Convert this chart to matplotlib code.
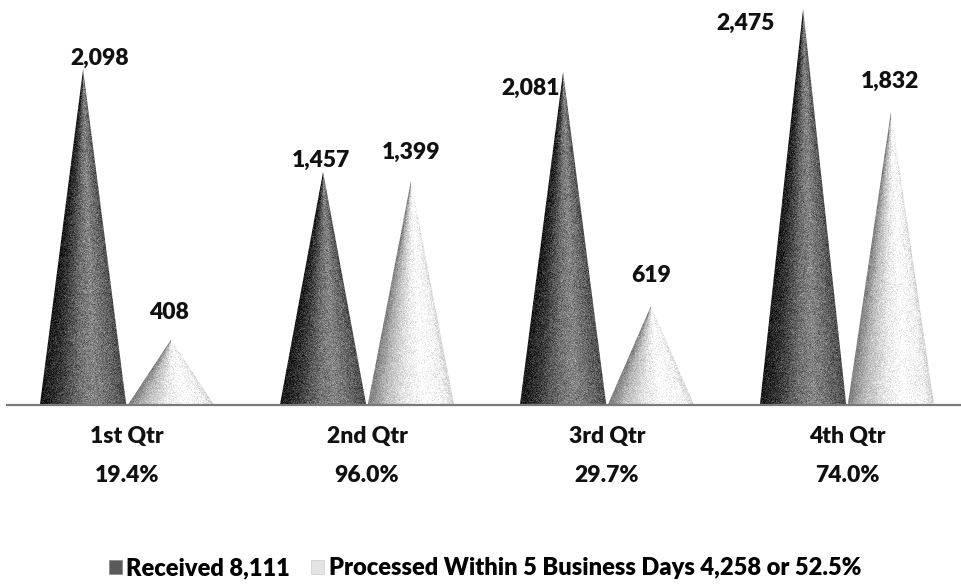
import numpy as np
import matplotlib
matplotlib.use("Agg")
import matplotlib.pyplot as plt
from matplotlib.patches import Polygon, Patch
from matplotlib.transforms import blended_transform_factory

plt.rcParams['font.family'] = ['Lato', 'DejaVu Sans']
plt.rcParams['font.weight'] = 'heavy'

quarters = ["1st Qtr", "2nd Qtr", "3rd Qtr", "4th Qtr"]
received = [2098, 1457, 2081, 2475]
processed = [408, 1399, 619, 1832]

# label placement (pixel offsets of the text centre from each cone tip)
recv_offsets = [(17, 11), (-2, 11), (-32, -16), (-58, -14)]
proc_offsets = [(-2, 27), (0, 29), (0, 30), (-1, 30)]

LABEL_SIZE = 16.5

fig = plt.figure(figsize=(9.61, 5.88), dpi=100)
ax = fig.add_axes([7 / 961, 1 - 405 / 588, 954 / 961, 400 / 588])
ax.set_xlim(-0.5, -0.5 + 954 / 240)
ax.set_ylim(0, 2500)
ax.axis("off")

# fixed seed so the stippled texture is the same on every run
rng = np.random.default_rng(7)


def shade_profile(u, stops):
    xs = [s[0] for s in stops]
    vs = [s[1] for s in stops]
    return np.interp(u, xs, vs)


recv_stops = [(-1.0, 0.10), (-0.6, 0.22), (-0.1, 0.44), (0.25, 0.52), (0.7, 0.40), (1.0, 0.30)]
proc_stops = [(-1.0, 0.50), (-0.6, 0.74), (-0.1, 0.92), (0.3, 1.00), (0.8, 0.94), (1.0, 0.82)]


def draw_cone(xc, height, width, stops, grain):
    half = width / 2
    nx, ny = 120, max(int(height * 0.16 * 1.2), 20)
    xs = np.linspace(xc - half, xc + half, nx)
    ys = np.linspace(0, height, ny)
    X, Y = np.meshgrid(xs, ys)
    hw = half * np.clip(1 - Y / height, 1e-6, None)
    U = np.clip((X - xc) / hw, -1, 1)
    val = shade_profile(U, stops)
    val = val + rng.normal(0, grain, val.shape)
    val = np.clip(val, 0, 1)
    img = ax.imshow(val, cmap="gray", vmin=0, vmax=1, origin="lower",
                    extent=(xc - half, xc + half, 0, height),
                    aspect="auto", interpolation="nearest", zorder=2)
    tri = Polygon([(xc - half, 0), (xc + half, 0), (xc, height)],
                  closed=True, facecolor="none", edgecolor="none")
    ax.add_patch(tri)
    img.set_clip_path(tri)


width = 0.36
off = 0.183
for i in range(len(quarters)):
    draw_cone(i - off, received[i], width, recv_stops, 0.07)
    draw_cone(i + off, processed[i], width, proc_stops, 0.05)
    ax.annotate(f"{received[i]:,}", xy=(i - off, received[i]),
                xytext=recv_offsets[i], textcoords="offset pixels",
                ha="center", va="center", fontsize=LABEL_SIZE,
                fontweight="heavy", color="#111111", zorder=5)
    ax.annotate(f"{processed[i]:,}", xy=(i + off, processed[i]),
                xytext=proc_offsets[i], textcoords="offset pixels",
                ha="center", va="center", fontsize=LABEL_SIZE,
                fontweight="heavy", color="#111111", zorder=5)

# baseline
ax.plot([-0.5, 3.5], [0, 0], color="#7a7a7a", lw=1.6, zorder=3, clip_on=False)

# category and percentage rows
tr = blended_transform_factory(ax.transData, fig.transFigure)
for i, q in enumerate(quarters):
    pct = processed[i] / received[i] * 100
    ax.text(i, 1 - 436 / 588, q, transform=tr, ha="center", va="center",
            fontsize=LABEL_SIZE, fontweight="heavy", color="#111111")
    ax.text(i, 1 - 476 / 588, f"{pct:.1f}%", transform=tr, ha="center",
            va="center", fontsize=LABEL_SIZE, fontweight="heavy", color="#111111")

total_recv = sum(received)
total_proc = sum(processed)
handles = [
    Patch(facecolor="#5a5a5a", edgecolor="#888888", lw=0.5),
    Patch(facecolor="#e4e4e4", edgecolor="#cccccc", lw=0.5),
]
labels = [
    f"Received {total_recv:,}",
    f"Processed Within 5 Business Days {total_proc:,} or {total_proc / total_recv * 100:.1f}%",
]
fig.legend(handles, labels, loc="center", bbox_to_anchor=(485 / 961, 1 - 568 / 588),
           ncol=2, frameon=False, prop={"weight": "heavy", "size": 17},
           handlelength=0.55, handleheight=0.55, handletextpad=0.2,
           columnspacing=0.9, borderpad=0)

fig.savefig("out.png", dpi=100, facecolor="white")
